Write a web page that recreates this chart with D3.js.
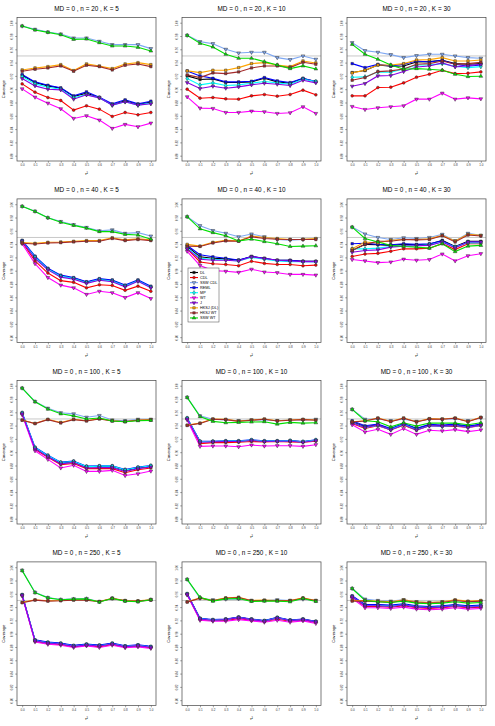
<!DOCTYPE html>
<html><head><meta charset="utf-8">
<script src="https://cdn.jsdelivr.net/npm/d3@7/dist/d3.min.js"></script>
<style>body{margin:0;background:#fff}svg{display:block;font-family:"Liberation Sans",Arial,sans-serif}</style>
</head><body>
<script>
const tau = [0,0.1,0.2,0.3,0.4,0.5,0.6,0.7,0.8,0.9,1.0];
const tauLabels = ["0.0","0.1","0.2","0.3","0.4","0.5","0.6","0.7","0.8","0.9","1.0"];
const yTicks = [0.80,0.82,0.84,0.86,0.88,0.90,0.92,0.94,0.96,0.98,1.00];
const yTickLabels = ["0.80","0.82","0.84","0.86","0.88","0.90","0.92","0.94","0.96","0.98","1.00"];
const nValues = [20,40,100,250];
const kValues = [5,10,30];
const methods = ["DL","CDL","SSW CDL","REML","MP","WT","J","HKSJ (DL)","HKSJ WT","SSW WT"];
const colors = ["#000000","#FF0000","#7FA8F2","#0000FF","#00FFFF","#FF00FF","#8A00E6","#FFA500","#A52A2A","#00E000"];
const nominal = 0.95;

// each panel: rows in methods order
const n20K5 = [
 [0.921,0.910,0.905,0.9015,0.889,0.894,0.887,0.8765,0.8825,0.877,0.8805],
 [0.908,0.8955,0.8875,0.883,0.8685,0.875,0.870,0.859,0.865,0.8615,0.865],
 [0.995,0.990,0.986,0.983,0.977,0.977,0.972,0.967,0.967,0.967,0.961],
 [0.922,0.911,0.906,0.902,0.890,0.896,0.888,0.878,0.884,0.878,0.882],
 [0.919,0.908,0.903,0.900,0.887,0.892,0.887,0.876,0.881,0.876,0.879],
 [0.9005,0.888,0.879,0.8705,0.856,0.860,0.8535,0.841,0.847,0.8435,0.849],
 [0.916,0.905,0.900,0.899,0.885,0.8915,0.887,0.876,0.881,0.876,0.878],
 [0.929,0.932,0.934,0.937,0.928,0.938,0.935,0.931,0.938,0.940,0.937],
 [0.927,0.930,0.932,0.935,0.927,0.936,0.934,0.929,0.936,0.938,0.934],
 [0.995,0.989,0.9855,0.982,0.975,0.9755,0.970,0.965,0.965,0.963,0.9575]];
const n20K10 = [
 [0.92,0.9145,0.9155,0.91,0.91,0.911,0.9165,0.911,0.909,0.916,0.9115],
 [0.90,0.8865,0.8875,0.8855,0.885,0.89,0.892,0.8895,0.892,0.8985,0.8915],
 [0.981,0.9715,0.9685,0.96,0.9545,0.9555,0.9555,0.9475,0.9445,0.95,0.945],
 [0.9275,0.92,0.9165,0.911,0.911,0.912,0.9175,0.9125,0.91,0.9165,0.9115],
 [0.916,0.9065,0.9095,0.9055,0.9065,0.909,0.9115,0.9095,0.9075,0.915,0.9115],
 [0.8885,0.8715,0.871,0.865,0.865,0.867,0.866,0.8635,0.8645,0.8735,0.8635],
 [0.91,0.901,0.9045,0.9015,0.9035,0.9065,0.909,0.9075,0.9055,0.9135,0.9095],
 [0.9275,0.925,0.9285,0.9285,0.9325,0.9385,0.94,0.9365,0.934,0.9425,0.9395],
 [0.9215,0.9175,0.9245,0.9235,0.926,0.932,0.935,0.935,0.9325,0.9405,0.9375],
 [0.981,0.969,0.9635,0.9525,0.9465,0.9465,0.9415,0.9365,0.931,0.935,0.9305]];
const n20K30 = [
 [0.925,0.928,0.9365,0.9345,0.935,0.941,0.9415,0.9435,0.9385,0.9375,0.9385],
 [0.89,0.89,0.9025,0.903,0.9095,0.918,0.9225,0.9285,0.9235,0.924,0.926],
 [0.97,0.958,0.9555,0.952,0.9475,0.9505,0.9525,0.9525,0.95,0.9475,0.9465],
 [0.9385,0.9325,0.9375,0.935,0.9375,0.9425,0.941,0.9435,0.9375,0.9345,0.9365],
 [0.918,0.9185,0.926,0.9255,0.9305,0.9365,0.9365,0.9385,0.9345,0.9325,0.934],
 [0.874,0.8695,0.872,0.8735,0.875,0.885,0.885,0.894,0.885,0.887,0.8855],
 [0.9045,0.9085,0.92,0.9205,0.9265,0.9335,0.935,0.9395,0.9335,0.9355,0.9375],
 [0.9245,0.9285,0.9365,0.9365,0.9385,0.944,0.9445,0.9475,0.9425,0.9425,0.944],
 [0.9135,0.9175,0.9265,0.9275,0.9305,0.9375,0.9385,0.9425,0.9375,0.9385,0.9405],
 [0.9675,0.9525,0.945,0.9365,0.93,0.931,0.93,0.9285,0.9225,0.919,0.9195]];
const n40K5 = [
 [0.9448,0.9209,0.9027,0.8923,0.8887,0.8825,0.8871,0.8851,0.8773,0.8851,0.8757],
 [0.9433,0.9147,0.8965,0.8851,0.8825,0.8742,0.8788,0.8778,0.8705,0.8767,0.869],
 [0.9968,0.9895,0.9796,0.974,0.9692,0.9651,0.9599,0.9614,0.9562,0.9573,0.9521],
 [0.9458,0.9219,0.9037,0.8933,0.8897,0.8835,0.8881,0.8861,0.8783,0.8861,0.8767],
 [0.9443,0.9204,0.9022,0.8918,0.8882,0.882,0.8866,0.8846,0.8768,0.8846,0.8752],
 [0.9406,0.9105,0.8897,0.8783,0.8742,0.8643,0.869,0.8669,0.8596,0.8669,0.858],
 [0.9443,0.9183,0.9012,0.8903,0.8871,0.8809,0.8856,0.8835,0.8757,0.884,0.8742],
 [0.9422,0.9411,0.9427,0.9432,0.9443,0.9453,0.9453,0.9495,0.9463,0.9479,0.9463],
 [0.9412,0.9401,0.9417,0.9422,0.9433,0.9443,0.9443,0.9485,0.9453,0.9469,0.9453],
 [0.9968,0.989,0.9796,0.9729,0.9682,0.964,0.9588,0.9588,0.9547,0.9536,0.9474]];
const n40K10 = [
 [0.9365,0.9209,0.9188,0.9178,0.9157,0.9214,0.9183,0.9157,0.9157,0.9142,0.9142],
 [0.9329,0.9131,0.9105,0.9094,0.9074,0.9142,0.911,0.9094,0.9094,0.9074,0.9084],
 [0.9812,0.9677,0.9604,0.9562,0.951,0.9552,0.951,0.9469,0.9458,0.9469,0.9479],
 [0.938,0.924,0.9209,0.9188,0.9162,0.9214,0.9188,0.9157,0.9157,0.9142,0.9142],
 [0.9344,0.9188,0.9173,0.9162,0.9147,0.9199,0.9173,0.9147,0.9136,0.9136,0.9131],
 [0.9292,0.9079,0.9001,0.8991,0.8975,0.9022,0.898,0.897,0.8944,0.8944,0.8934],
 [0.9329,0.9173,0.9157,0.9157,0.9147,0.9209,0.9183,0.9157,0.9147,0.9136,0.9136],
 [0.9396,0.937,0.9427,0.9458,0.9448,0.9521,0.95,0.9484,0.9469,0.9474,0.9484],
 [0.937,0.9365,0.9417,0.9448,0.9443,0.951,0.9484,0.9474,0.9469,0.9469,0.9469],
 [0.9812,0.963,0.9573,0.9526,0.9448,0.9474,0.9438,0.9406,0.9365,0.937,0.9375]];
const n40K30 = [
 [0.9303,0.9396,0.9391,0.9381,0.9396,0.9391,0.9396,0.9458,0.9365,0.9443,0.9443],
 [0.9214,0.9251,0.9261,0.9292,0.9329,0.9329,0.9339,0.9406,0.9318,0.9406,0.9406],
 [0.9656,0.9552,0.95,0.9469,0.9495,0.9484,0.95,0.9547,0.9448,0.9562,0.9531],
 [0.9406,0.9412,0.9396,0.9391,0.9406,0.9396,0.9406,0.9448,0.9355,0.9432,0.9432],
 [0.9329,0.9329,0.9339,0.9365,0.9375,0.9375,0.9391,0.9432,0.9355,0.9422,0.9417],
 [0.9168,0.9147,0.9121,0.9131,0.9173,0.9157,0.9168,0.9251,0.9147,0.9225,0.9256],
 [0.9277,0.9303,0.9313,0.9355,0.937,0.9375,0.9381,0.9432,0.9344,0.9432,0.9432],
 [0.9329,0.9432,0.9417,0.9458,0.9469,0.9469,0.9479,0.9531,0.9448,0.9547,0.9531],
 [0.9303,0.9396,0.9443,0.9443,0.9469,0.9464,0.9469,0.9526,0.9432,0.9536,0.9521],
 [0.9656,0.9484,0.9432,0.9381,0.9365,0.9355,0.9339,0.9406,0.9287,0.937,0.9381]];
const n100K5 = [
 [0.9588,0.9062,0.8943,0.884,0.8856,0.8778,0.8784,0.8784,0.8727,0.8763,0.8789],
 [0.9577,0.9041,0.8923,0.8814,0.883,0.8753,0.8753,0.8753,0.8691,0.8737,0.8763],
 [0.9964,0.9763,0.966,0.9593,0.9577,0.9526,0.9552,0.9485,0.9474,0.9495,0.9495],
 [0.9595,0.9075,0.8955,0.885,0.8866,0.879,0.8795,0.8795,0.874,0.8775,0.88],
 [0.959,0.9068,0.8948,0.8845,0.886,0.8783,0.879,0.879,0.8733,0.877,0.8795],
 [0.9562,0.9021,0.8892,0.8763,0.8804,0.8711,0.8711,0.8727,0.8649,0.8675,0.8716],
 [0.9577,0.9052,0.8933,0.8825,0.8845,0.8763,0.8768,0.8768,0.8711,0.8753,0.8778],
 [0.9485,0.9433,0.9495,0.9448,0.9495,0.9474,0.9505,0.9474,0.9459,0.9485,0.949],
 [0.948,0.943,0.949,0.944,0.949,0.947,0.95,0.947,0.946,0.948,0.9485],
 [0.9964,0.9758,0.9649,0.9577,0.9546,0.95,0.9515,0.9469,0.9459,0.9474,0.9479]];
const n100K10 = [
 [0.951,0.916,0.916,0.9165,0.9165,0.918,0.9165,0.9165,0.917,0.9155,0.918],
 [0.95,0.9129,0.9144,0.9144,0.9149,0.916,0.9155,0.916,0.9155,0.9149,0.9165],
 [0.9825,0.9546,0.9495,0.9485,0.9474,0.9485,0.9485,0.9474,0.9485,0.9485,0.9495],
 [0.9515,0.9165,0.9165,0.917,0.917,0.9186,0.917,0.917,0.9175,0.916,0.9186],
 [0.9512,0.9162,0.9162,0.9166,0.9166,0.9182,0.9166,0.9166,0.9171,0.9156,0.9182],
 [0.9485,0.9088,0.9093,0.9093,0.9082,0.9108,0.9093,0.9098,0.9098,0.9088,0.9113],
 [0.95,0.9149,0.9155,0.916,0.916,0.9175,0.916,0.9165,0.9165,0.9149,0.9175],
 [0.9407,0.9438,0.95,0.9495,0.9469,0.9485,0.95,0.9474,0.9485,0.9495,0.9485],
 [0.9402,0.9433,0.9495,0.949,0.9464,0.948,0.9495,0.9469,0.948,0.949,0.948],
 [0.9825,0.9536,0.9464,0.9443,0.9448,0.9454,0.9459,0.9423,0.9448,0.9438,0.9443]];
const n100K30 = [
 [0.9459,0.9381,0.9412,0.9345,0.9423,0.9351,0.9407,0.9397,0.9412,0.9381,0.9412],
 [0.9433,0.9356,0.9397,0.9335,0.9407,0.933,0.9397,0.9387,0.9392,0.9371,0.9397],
 [0.9644,0.9495,0.95,0.9474,0.9495,0.9464,0.9495,0.9495,0.9505,0.9474,0.9515],
 [0.9474,0.9397,0.9423,0.9356,0.9433,0.9361,0.9418,0.9407,0.9423,0.9392,0.9423],
 [0.9448,0.9371,0.9402,0.934,0.9418,0.934,0.9397,0.9387,0.9402,0.9376,0.9402],
 [0.9412,0.9304,0.9345,0.9268,0.9356,0.9268,0.933,0.932,0.934,0.9309,0.9335],
 [0.9443,0.9371,0.9407,0.9335,0.9412,0.9335,0.9397,0.9392,0.9402,0.9371,0.9407],
 [0.9459,0.9474,0.9515,0.9464,0.9515,0.9459,0.9505,0.95,0.9515,0.9464,0.9526],
 [0.9454,0.9469,0.951,0.9459,0.951,0.9454,0.95,0.9495,0.951,0.9459,0.9521],
 [0.9644,0.9474,0.9459,0.9381,0.9443,0.9392,0.9438,0.9438,0.9438,0.9412,0.9443]];
const n250K5 = [
 [0.9583,0.89,0.8866,0.8851,0.8817,0.8837,0.8822,0.8851,0.8812,0.8827,0.8802],
 [0.9573,0.8885,0.8851,0.8837,0.8802,0.8827,0.8802,0.8837,0.8798,0.8812,0.8788],
 [0.9954,0.9622,0.9544,0.9515,0.9525,0.9529,0.9481,0.9534,0.9495,0.9485,0.9515],
 [0.9588,0.8907,0.8873,0.8858,0.8824,0.8844,0.8829,0.8858,0.8819,0.8834,0.8809],
 [0.958,0.8897,0.8863,0.8848,0.8814,0.8834,0.8819,0.8848,0.8809,0.8824,0.8799],
 [0.9568,0.8876,0.8841,0.8827,0.8793,0.8817,0.8793,0.8827,0.8788,0.8802,0.8778],
 [0.9578,0.8893,0.8859,0.8844,0.881,0.883,0.8815,0.8844,0.8805,0.882,0.8795],
 [0.9471,0.951,0.9495,0.95,0.951,0.951,0.9485,0.9534,0.95,0.9495,0.951],
 [0.9466,0.9505,0.949,0.9495,0.9505,0.9505,0.948,0.9529,0.9495,0.949,0.9505],
 [0.9949,0.9617,0.9539,0.951,0.952,0.9524,0.9476,0.9529,0.949,0.948,0.951]];
const n250K10 = [
 [0.9598,0.9227,0.9207,0.9217,0.9246,0.9217,0.9193,0.9241,0.9202,0.9217,0.9183],
 [0.9588,0.9212,0.9198,0.9198,0.9227,0.9202,0.9183,0.9217,0.9188,0.9202,0.9168],
 [0.9817,0.9534,0.951,0.952,0.9524,0.95,0.95,0.951,0.95,0.952,0.95],
 [0.9603,0.9232,0.9212,0.9222,0.9251,0.9222,0.9198,0.9246,0.9207,0.9222,0.9188],
 [0.9595,0.9224,0.9204,0.9214,0.9243,0.9214,0.919,0.9238,0.9199,0.9214,0.918],
 [0.9583,0.9202,0.9188,0.9188,0.9212,0.9193,0.9173,0.9202,0.9173,0.9193,0.9154],
 [0.9593,0.9222,0.9202,0.9212,0.9241,0.9212,0.9188,0.9236,0.9197,0.9212,0.9178],
 [0.948,0.9539,0.95,0.9539,0.9549,0.95,0.9505,0.95,0.95,0.9539,0.95],
 [0.9475,0.9534,0.9495,0.9534,0.9544,0.9495,0.95,0.9495,0.9495,0.9534,0.9495],
 [0.9817,0.9549,0.949,0.9524,0.9529,0.9485,0.949,0.949,0.948,0.9529,0.9485]];
const n250K30 = [
 [0.956,0.943,0.943,0.942,0.944,0.941,0.940,0.941,0.943,0.941,0.942],
 [0.955,0.941,0.941,0.940,0.942,0.939,0.938,0.939,0.941,0.939,0.940],
 [0.968,0.952,0.950,0.949,0.951,0.948,0.947,0.948,0.950,0.948,0.949],
 [0.957,0.944,0.944,0.943,0.945,0.942,0.941,0.942,0.944,0.942,0.943],
 [0.9555,0.9425,0.9425,0.9415,0.9435,0.9405,0.9395,0.9405,0.9425,0.9405,0.9415],
 [0.953,0.939,0.939,0.938,0.940,0.937,0.936,0.937,0.939,0.937,0.938],
 [0.9555,0.942,0.942,0.941,0.943,0.940,0.939,0.940,0.942,0.940,0.941],
 [0.950,0.950,0.949,0.948,0.951,0.948,0.947,0.948,0.951,0.949,0.950],
 [0.949,0.949,0.948,0.947,0.950,0.947,0.946,0.947,0.950,0.948,0.949],
 [0.968,0.950,0.948,0.947,0.949,0.946,0.945,0.946,0.948,0.946,0.947]];

const panelData = [[n20K5,n20K10,n20K30],[n40K5,n40K10,n40K30],[n100K5,n100K10,n100K30],[n250K5,n250K10,n250K30]];

const W = 495, H = 726, PW = 165, PH = 181.5;
const svg = d3.select("body").append("svg").attr("width", W).attr("height", H);

const tri = d3.symbolTriangle;
const symbolTypes = [d3.symbolSquare, d3.symbolCircle, "down", d3.symbolSquare, d3.symbolDiamond, "down", "down", d3.symbolSquare, d3.symbolSquare, tri];
function symPath(i, size) {
  const t = symbolTypes[i];
  return d3.symbol().type(t === "down" ? tri : t).size(size)();
}
function symRot(i){ return symbolTypes[i] === "down" ? " rotate(180)" : ""; }

nValues.forEach((n, r) => {
  kValues.forEach((k, c) => {
    const ox = c * PW, oy = r * PH;
    const g = svg.append("g").attr("transform", `translate(${ox},${oy})`);
    const x = d3.scaleLinear().domain([-0.04, 1.04]).range([17, 156]);
    const y = d3.scaleLinear().domain([0.792, 1.008]).range([161, 17.4]);
    const data = panelData[r][c];

    g.append("line").attr("x1", x(-0.04)).attr("x2", x(1.04)).attr("y1", y(nominal)).attr("y2", y(nominal))
      .attr("stroke", "#c8c8c8").attr("stroke-width", 1);

    const line = d3.line().x((d, i) => x(tau[i])).y(d => y(d));
    data.forEach((vals, m) => {
      g.append("path").attr("d", line(vals)).attr("fill", "none")
        .attr("stroke", colors[m]).attr("stroke-width", 1.1);
    });
    data.forEach((vals, m) => {
      g.selectAll(null).data(vals).enter().append("path")
        .attr("d", symPath(m, 6))
        .attr("transform", (d, i) => `translate(${x(tau[i])},${y(d)})${symRot(m)}`)
        .attr("fill", m === 0 ? "#000" : colors[m]).attr("stroke", "#333").attr("stroke-width", 0.5);
    });

    g.append("rect").attr("x", 17).attr("y", 17.4).attr("width", 139).attr("height", 143.6)
      .attr("fill", "none").attr("stroke", "#444").attr("stroke-width", 0.7);

    const xa = g.append("g").attr("transform", "translate(0,161)")
      .call(d3.axisBottom(x).tickValues(tau).tickFormat((d, i) => tauLabels[i]).tickSize(1.8).tickPadding(1.2));
    xa.select(".domain").remove();
    xa.selectAll("line").attr("stroke", "#444").attr("stroke-width", 0.5);
    xa.selectAll("text").attr("font-size", 3).attr("fill", "#333").attr("font-family", "Liberation Sans, Arial, sans-serif");

    const ya = g.append("g").attr("transform", "translate(17,0)")
      .call(d3.axisLeft(y).tickValues(yTicks).tickFormat((d, i) => yTickLabels[i]).tickSize(1.8).tickPadding(0));
    ya.select(".domain").remove();
    ya.selectAll("line").attr("stroke", "#444").attr("stroke-width", 0.5);
    ya.selectAll("text").attr("font-size", 3).attr("fill", "#333").attr("font-family", "Liberation Sans, Arial, sans-serif")
      .attr("text-anchor", "middle").attr("dy", 0).attr("x", 0).attr("y", 0)
      .attr("transform", "translate(-4.2,0) rotate(-90)");

    g.append("text").attr("x", 86.5).attr("y", 10.5).attr("text-anchor", "middle")
      .attr("font-size", 6.4).attr("fill", "#000").text(`MD = 0 , n = ${n} , K = ${k}`);
    g.append("text").attr("transform", `translate(5,${(17.4 + 161) / 2}) rotate(-90)`)
      .attr("text-anchor", "middle").attr("font-size", 4.2).attr("fill", "#000").text("Coverage");
    g.append("text").attr("x", 86.5).attr("y", 175).attr("text-anchor", "middle")
      .attr("font-size", 4).attr("fill", "#000").text("τ²");
  });
});

const lg = svg.append("g").attr("transform", `translate(${PW},${PH})`);
const lx = 23, ly = 86.5, lw = 31, lh = 54;
lg.append("rect").attr("x", lx).attr("y", ly).attr("width", lw).attr("height", lh)
  .attr("fill", "#fff").attr("stroke", "#444").attr("stroke-width", 0.5);
methods.forEach((m, i) => {
  const yy = ly + 4.5 + i * 5.05;
  lg.append("line").attr("x1", lx + 2).attr("x2", lx + 10).attr("y1", yy).attr("y2", yy)
    .attr("stroke", colors[i]).attr("stroke-width", 1.1);
  lg.append("path").attr("d", symPath(i, 6)).attr("transform", `translate(${lx + 6},${yy})${symRot(i)}`)
    .attr("fill", i === 0 ? "#000" : colors[i]).attr("stroke", "#333").attr("stroke-width", 0.4);
  lg.append("text").attr("x", lx + 12).attr("y", yy + 1.3).attr("font-size", 3.8).attr("fill", "#000").text(m);
});
</script>
</body></html>
